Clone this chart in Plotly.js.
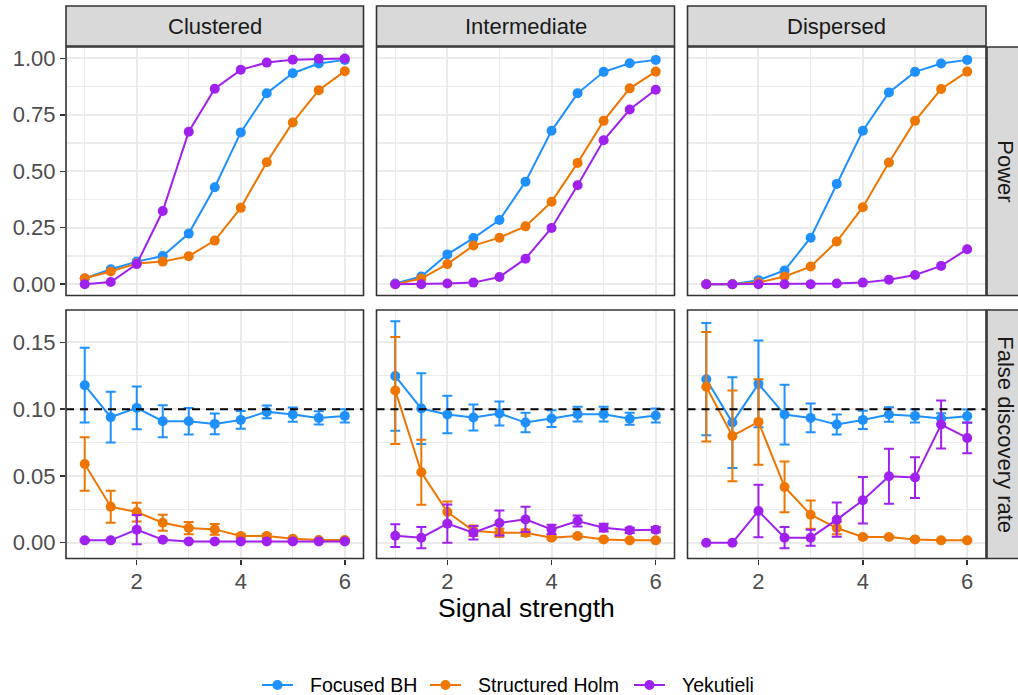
<!DOCTYPE html>
<html>
<head>
<meta charset="utf-8">
<script src="https://cdn.plot.ly/plotly-3.0.1.min.js"></script>
<style>html,body{margin:0;padding:0;background:#fff;overflow:hidden;}#chart{width:1018px;height:695px;}</style>
</head>
<body>
<div id="chart"></div>
<script>
// ---------------- data ----------------
const strength = [1, 1.5, 2, 2.5, 3, 3.5, 4, 4.5, 5, 5.5, 6];
const methods = ['Focused BH', 'Structured Holm', 'Yekutieli'];
const settings = ['Clustered', 'Intermediate', 'Dispersed'];
const metrics = ['Power', 'False discovery rate'];
const fdrTarget = 0.1;

// Power
const powerClusteredBH    = [0.025, 0.066, 0.100, 0.125, 0.224, 0.429, 0.672, 0.845, 0.934, 0.977, 0.993];
const powerClusteredHolm  = [0.026, 0.056, 0.092, 0.100, 0.124, 0.193, 0.338, 0.540, 0.716, 0.859, 0.943];
const powerClusteredYek   = [0.000, 0.010, 0.089, 0.324, 0.675, 0.865, 0.949, 0.981, 0.994, 0.998, 0.999];
const powerIntermediateBH   = [0.003, 0.034, 0.132, 0.204, 0.284, 0.454, 0.679, 0.845, 0.940, 0.978, 0.993];
const powerIntermediateHolm = [0.000, 0.025, 0.089, 0.171, 0.206, 0.256, 0.365, 0.537, 0.723, 0.867, 0.941];
const powerIntermediateYek  = [0.000, 0.000, 0.003, 0.007, 0.032, 0.113, 0.249, 0.438, 0.637, 0.773, 0.861];
const powerDispersedBH   = [0.000, 0.000, 0.018, 0.061, 0.206, 0.444, 0.679, 0.849, 0.940, 0.977, 0.993];
const powerDispersedHolm = [0.000, 0.000, 0.007, 0.034, 0.078, 0.189, 0.341, 0.539, 0.723, 0.864, 0.941];
const powerDispersedYek  = [0.000, 0.000, 0.000, 0.000, 0.000, 0.003, 0.007, 0.020, 0.041, 0.081, 0.155];

// False discovery rate (mean) and error-bar half widths
const fdrClusteredBH     = [0.118, 0.094, 0.101, 0.091, 0.091, 0.089, 0.092, 0.098, 0.096, 0.0935, 0.095];
const seClusteredBH      = [0.028, 0.019, 0.016, 0.012, 0.010, 0.0077, 0.0067, 0.0048, 0.0053, 0.005, 0.005];
const fdrClusteredHolm   = [0.059, 0.027, 0.023, 0.015, 0.011, 0.010, 0.005, 0.005, 0.003, 0.002, 0.002];
const seClusteredHolm    = [0.020, 0.012, 0.007, 0.006, 0.0046, 0.004, 0.0015, 0.0015, 0.001, 0.0008, 0.0008];
const fdrClusteredYek    = [0.0018, 0.0018, 0.0098, 0.0023, 0.001, 0.001, 0.001, 0.001, 0.001, 0.001, 0.001];
const seClusteredYek     = [0.0008, 0.0008, 0.011, 0.0008, 0.0005, 0.0005, 0.0005, 0.0005, 0.0005, 0.0005, 0.0005];

const fdrIntermediateBH   = [0.1248, 0.1005, 0.096, 0.0938, 0.0968, 0.090, 0.093, 0.0963, 0.0963, 0.0928, 0.0953];
const seIntermediateBH    = [0.041, 0.0265, 0.014, 0.0098, 0.009, 0.0073, 0.0063, 0.0055, 0.0055, 0.0045, 0.0053];
const fdrIntermediateHolm = [0.114, 0.0528, 0.023, 0.009, 0.0075, 0.0075, 0.0038, 0.005, 0.0025, 0.0018, 0.0018];
const seIntermediateHolm  = [0.040, 0.0243, 0.0078, 0.004, 0.0031, 0.0025, 0.0012, 0.0012, 0.0008, 0.0006, 0.0006];
const fdrIntermediateYek  = [0.0053, 0.0038, 0.0143, 0.0075, 0.0148, 0.0175, 0.010, 0.0163, 0.0113, 0.0093, 0.0098];
const seIntermediateYek   = [0.0085, 0.008, 0.0143, 0.0051, 0.0094, 0.0094, 0.0034, 0.0041, 0.0029, 0.002, 0.002];

const fdrDispersedBH   = [0.1225, 0.090, 0.119, 0.096, 0.0935, 0.0885, 0.092, 0.096, 0.095, 0.093, 0.0948];
const seDispersedBH    = [0.042, 0.034, 0.0325, 0.0224, 0.0107, 0.0075, 0.0068, 0.0054, 0.005, 0.004, 0.005];
const fdrDispersedHolm = [0.1168, 0.080, 0.0905, 0.0418, 0.021, 0.011, 0.0043, 0.0043, 0.0025, 0.0018, 0.0018];
const seDispersedHolm  = [0.041, 0.034, 0.032, 0.019, 0.0106, 0.0046, 0.0012, 0.001, 0.0008, 0.0006, 0.0006];
const fdrDispersedYek  = [0, 0, 0.0238, 0.0038, 0.0038, 0.0173, 0.0318, 0.0498, 0.0488, 0.0885, 0.0785];
const seDispersedYek   = [0, 0, 0.0196, 0.0079, 0.006, 0.0129, 0.0174, 0.0206, 0.0152, 0.018, 0.0115];

// ---------------- build ----------------
const colors = ['#1E90FF', '#EE7600', '#A020F0'];
const powerData = [
  [powerClusteredBH, powerClusteredHolm, powerClusteredYek],
  [powerIntermediateBH, powerIntermediateHolm, powerIntermediateYek],
  [powerDispersedBH, powerDispersedHolm, powerDispersedYek]
];
const fdrData = [
  [fdrClusteredBH, fdrClusteredHolm, fdrClusteredYek],
  [fdrIntermediateBH, fdrIntermediateHolm, fdrIntermediateYek],
  [fdrDispersedBH, fdrDispersedHolm, fdrDispersedYek]
];
const seData = [
  [seClusteredBH, seClusteredHolm, seClusteredYek],
  [seIntermediateBH, seIntermediateHolm, seIntermediateYek],
  [seDispersedBH, seDispersedHolm, seDispersedYek]
];

const W = 1018, H = 695;
const px = v => v / W;
const py = v => 1 - v / H;
const colPx = [[66, 363.5], [376.5, 674.5], [687.5, 986]];
const rowPx = [[47, 295.5], [310, 558.5]];

const traces = [];
const layout = {
  width: W, height: H,
  margin: {l: 0, r: 0, t: 0, b: 0, autoexpand: false},
  paper_bgcolor: '#FFFFFF', plot_bgcolor: '#FFFFFF',
  font: {family: 'Liberation Sans, Arial, sans-serif', color: '#000000'},
  showlegend: false,
  shapes: [], annotations: []
};

const gridCol = '#EBEBEB', borderCol = '#333333', tickCol = '#4D4D4D';
const tickSize = 22, stripSize = 22;

for (let r = 0; r < 2; r++) {
  for (let c = 0; c < 3; c++) {
    const idx = r * 3 + c + 1;
    const sfx = idx === 1 ? '' : String(idx);
    const xa = 'x' + sfx, ya = 'y' + sfx;
    layout['xaxis' + sfx] = {
      domain: [px(colPx[c][0]), px(colPx[c][1])],
      anchor: ya, range: [0.64, 6.36],
      tickmode: 'linear', tick0: 0, dtick: 2,
      showgrid: true, gridcolor: gridCol, gridwidth: 2,
      minor: {tick0: 0, dtick: 1, showgrid: true, gridcolor: gridCol, gridwidth: 1.1},
      zeroline: false, showline: false,
      ticks: r === 1 ? 'outside' : '', ticklen: 5, tickwidth: 1.5, tickcolor: borderCol,
      showticklabels: r === 1, ticklabelstandoff: -2,
      tickfont: {size: tickSize, color: tickCol}
    };
    const isPower = r === 0;
    layout['yaxis' + sfx] = {
      domain: [py(rowPx[r][1]), py(rowPx[r][0])],
      anchor: xa,
      range: isPower ? [-0.05, 1.05] : [-0.0118, 0.1743],
      tickmode: 'linear', tick0: 0, dtick: isPower ? 0.25 : 0.05,
      tickformat: '.2f',
      showgrid: true, gridcolor: gridCol, gridwidth: 2,
      minor: {tick0: 0, dtick: isPower ? 0.125 : 0.025, showgrid: true, gridcolor: gridCol, gridwidth: 1.1},
      zeroline: false, showline: false,
      ticks: c === 0 ? 'outside' : '', ticklen: 5, tickwidth: 1.5, tickcolor: borderCol,
      showticklabels: c === 0,
      tickfont: {size: tickSize, color: tickCol}
    };

    for (let m = 0; m < 3; m++) {
      const t = {
        type: 'scatter', mode: 'lines+markers',
        x: strength,
        y: isPower ? powerData[c][m] : fdrData[c][m],
        xaxis: xa, yaxis: ya,
        name: methods[m], showlegend: false,
        line: {color: colors[m], width: 2},
        marker: {color: colors[m], size: 10},
        hoverinfo: 'skip'
      };
      if (!isPower) {
        t.error_y = {type: 'data', array: seData[c][m], symmetric: true, visible: true,
                     color: colors[m], thickness: 2, width: 5};
      }
      traces.push(t);
    }

    if (!isPower) {
      layout.shapes.push({type: 'line', xref: xa + ' domain', yref: ya,
        x0: 0, x1: 1, y0: fdrTarget, y1: fdrTarget,
        line: {color: '#000000', width: 2, dash: '8px,6px'}, layer: 'above'});
    }
    // panel border
    layout.shapes.push({type: 'rect', xref: 'paper', yref: 'paper',
      x0: px(colPx[c][0]), x1: px(colPx[c][1]), y0: py(rowPx[r][1]), y1: py(rowPx[r][0]),
      line: {color: borderCol, width: 1.6}, fillcolor: 'rgba(0,0,0,0)', layer: 'above'});
  }
}

// top strips
for (let c = 0; c < 3; c++) {
  layout.shapes.push({type: 'rect', xref: 'paper', yref: 'paper',
    x0: px(colPx[c][0]), x1: px(colPx[c][1]), y0: py(46), y1: py(6),
    line: {color: borderCol, width: 1.6}, fillcolor: '#D9D9D9', layer: 'above'});
  layout.annotations.push({xref: 'paper', yref: 'paper',
    x: px((colPx[c][0] + colPx[c][1]) / 2), y: py(26), text: settings[c], showarrow: false,
    xanchor: 'center', yanchor: 'middle', font: {size: stripSize, color: '#1A1A1A'}});
}
// right strips
for (let r = 0; r < 2; r++) {
  layout.shapes.push({type: 'rect', xref: 'paper', yref: 'paper',
    x0: px(987), x1: px(1026), y0: py(rowPx[r][1]), y1: py(rowPx[r][0]),
    line: {color: borderCol, width: 1.6}, fillcolor: '#D9D9D9', layer: 'above'});
  layout.annotations.push({xref: 'paper', yref: 'paper',
    x: px(1006), y: py((rowPx[r][0] + rowPx[r][1]) / 2), text: metrics[r], showarrow: false,
    textangle: 90, xanchor: 'center', yanchor: 'middle', font: {size: stripSize, color: '#1A1A1A'}});
}
// x axis title
layout.annotations.push({xref: 'paper', yref: 'paper', x: px(526), y: py(608),
  text: 'Signal strength', showarrow: false, xanchor: 'center', yanchor: 'middle', borderpad: 0,
  font: {size: 26.5, color: '#000000'}});

// legend (drawn as keys + labels, ggplot style)
const legendKeyLeft = [262, 430, 634];
const legendY = 685;
for (let m = 0; m < 3; m++) {
  const k0 = legendKeyLeft[m];
  layout.shapes.push({type: 'line', xref: 'paper', yref: 'paper',
    x0: px(k0), x1: px(k0 + 31), y0: py(legendY), y1: py(legendY),
    line: {color: colors[m], width: 2}});
  layout.shapes.push({type: 'circle', xref: 'paper', yref: 'paper',
    x0: px(k0 + 15.5 - 5), x1: px(k0 + 15.5 + 5), y0: py(legendY + 5), y1: py(legendY - 5),
    line: {color: colors[m], width: 0}, fillcolor: colors[m]});
  layout.annotations.push({xref: 'paper', yref: 'paper', x: px(k0 + 46), y: py(legendY),
    text: methods[m], showarrow: false, xanchor: 'left', yanchor: 'middle',
    font: {size: 19.5, color: '#000000'}});
}

Plotly.newPlot('chart', traces, layout, {displayModeBar: false, staticPlot: true});
</script>
</body>
</html>
